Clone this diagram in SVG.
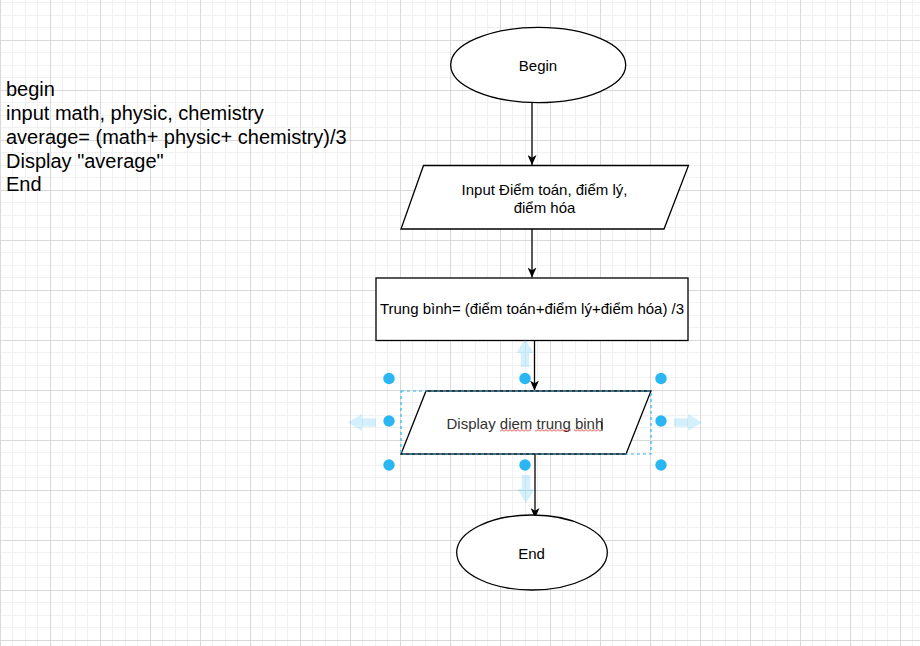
<svg xmlns="http://www.w3.org/2000/svg" width="920" height="646" viewBox="0 0 920 646">
  <defs>
    <pattern id="grid" patternUnits="userSpaceOnUse" x="0" y="-10" width="50" height="50">
      <rect width="50" height="50" fill="#ffffff"/>
      <g fill="#f1f1f1">
        <rect x="12" y="0" width="1" height="50"/>
        <rect x="25" y="0" width="1" height="50"/>
        <rect x="37" y="0" width="1" height="50"/>
        <rect x="0" y="12" width="50" height="1"/>
        <rect x="0" y="25" width="50" height="1"/>
        <rect x="0" y="37" width="50" height="1"/>
      </g>
      <g fill="#d9d9d9">
        <rect x="0" y="0" width="1" height="50"/>
        <rect x="0" y="0" width="50" height="1"/>
      </g>
    </pattern>
    <pattern id="squiggle" patternUnits="userSpaceOnUse" x="0" y="429" width="4" height="3">
      <path d="M0,2.5L2,0.5L4,2.5" stroke="#e02020" stroke-width="0.9" fill="none"/>
    </pattern>
    <marker id="arrow" markerUnits="userSpaceOnUse" markerWidth="10" markerHeight="9" refX="10" refY="4.5" orient="auto" viewBox="0 0 10 9">
      <path d="M0,0L10,4.5L0,9L2.8,4.5Z" fill="#000"/>
    </marker>
    <path id="hover" d="M0,0L8.5,14L4.3,14L4.3,28L-4.3,28L-4.3,14L-8.5,14Z" fill="#29b6f2" fill-opacity="0.2"/>
  </defs>
  <style>
    .shape { fill: #ffffff; stroke: #000000; stroke-width: 1.3; }
    .lbl { font-family: "Liberation Sans", Arial, sans-serif; font-size: 15px; fill: #000000; }
    .code { font-family: "Liberation Sans", Arial, sans-serif; font-size: 20px; fill: #000000; }
    .conn { stroke: #000000; stroke-width: 1.3; fill: none; marker-end: url(#arrow); }
    .handle { fill: #29b6f2; }
  </style>

  <rect width="920" height="646" fill="url(#grid)"/>

  <g id="pseudocode">
    <text class="code" x="6" y="96">begin</text>
    <text class="code" x="6" y="120">input math, physic, chemistry</text>
    <text class="code" x="6" y="144">average= (math+ physic+ chemistry)/3</text>
    <text class="code" x="6" y="168">Display "average"</text>
    <text class="code" x="6" y="191">End</text>
  </g>

  <g id="connectors">
    <line class="conn" x1="532" y1="103" x2="532" y2="165"/>
    <line class="conn" x1="532" y1="229" x2="532" y2="277.5"/>
    <line class="conn" x1="534.5" y1="340.5" x2="534.5" y2="390.5"/>
    <line class="conn" x1="535" y1="454" x2="535" y2="518"/>
  </g>

  <g id="begin">
    <ellipse class="shape" cx="538.2" cy="65" rx="87.5" ry="37.6"/>
    <text class="lbl" x="538" y="71" text-anchor="middle">Begin</text>
  </g>

  <g id="input">
    <polygon class="shape" points="423.5,165.5 688.5,165.5 664,229 401,229"/>
    <text class="lbl" x="544.5" y="195" text-anchor="middle">Input Điểm toán, điểm lý,</text>
    <text class="lbl" x="544.5" y="213" text-anchor="middle">điểm hóa</text>
  </g>

  <g id="compute">
    <rect class="shape" x="376" y="278" width="312" height="62.5"/>
    <text class="lbl" x="532" y="314" text-anchor="middle">Trung bình= (điểm toán+điểm lý+điểm hóa) /3</text>
  </g>

  <g id="display">
    <polygon class="shape" points="426,391 651,391 626,454 401,454"/>
    <text class="lbl" x="446.5" y="428.7" style="fill:#333333">Display diem trung binh</text>
    <rect x="500" y="429" width="31" height="3" fill="url(#squiggle)"/>
    <rect x="535" y="429" width="36" height="3" fill="url(#squiggle)"/>
    <rect x="574" y="429" width="27" height="3" fill="url(#squiggle)"/>
    <line x1="602" y1="418" x2="602" y2="431" stroke="#000" stroke-width="1"/>
  </g>

  <g id="selection">
    <rect x="401" y="391" width="250" height="63" fill="none" stroke="#29b6f2" stroke-width="1.2" stroke-dasharray="3 3"/>
    <circle class="handle" cx="389" cy="378.5" r="5.7"/>
    <circle class="handle" cx="525" cy="378.5" r="5.7"/>
    <circle class="handle" cx="661" cy="378.5" r="5.7"/>
    <circle class="handle" cx="389" cy="421" r="5.7"/>
    <circle class="handle" cx="661" cy="421" r="5.7"/>
    <circle class="handle" cx="389" cy="465" r="5.7"/>
    <circle class="handle" cx="525" cy="465" r="5.7"/>
    <circle class="handle" cx="661" cy="465" r="5.7"/>
    <use href="#hover" transform="translate(525,339)"/>
    <use href="#hover" transform="translate(526,503) rotate(180)"/>
    <use href="#hover" transform="translate(348,422.5) rotate(-90)"/>
    <use href="#hover" transform="translate(702,422.5) rotate(90)"/>
  </g>

  <g id="end">
    <ellipse class="shape" cx="532" cy="552.5" rx="75.3" ry="37.5"/>
    <text class="lbl" x="531.5" y="559" text-anchor="middle">End</text>
  </g>
</svg>
